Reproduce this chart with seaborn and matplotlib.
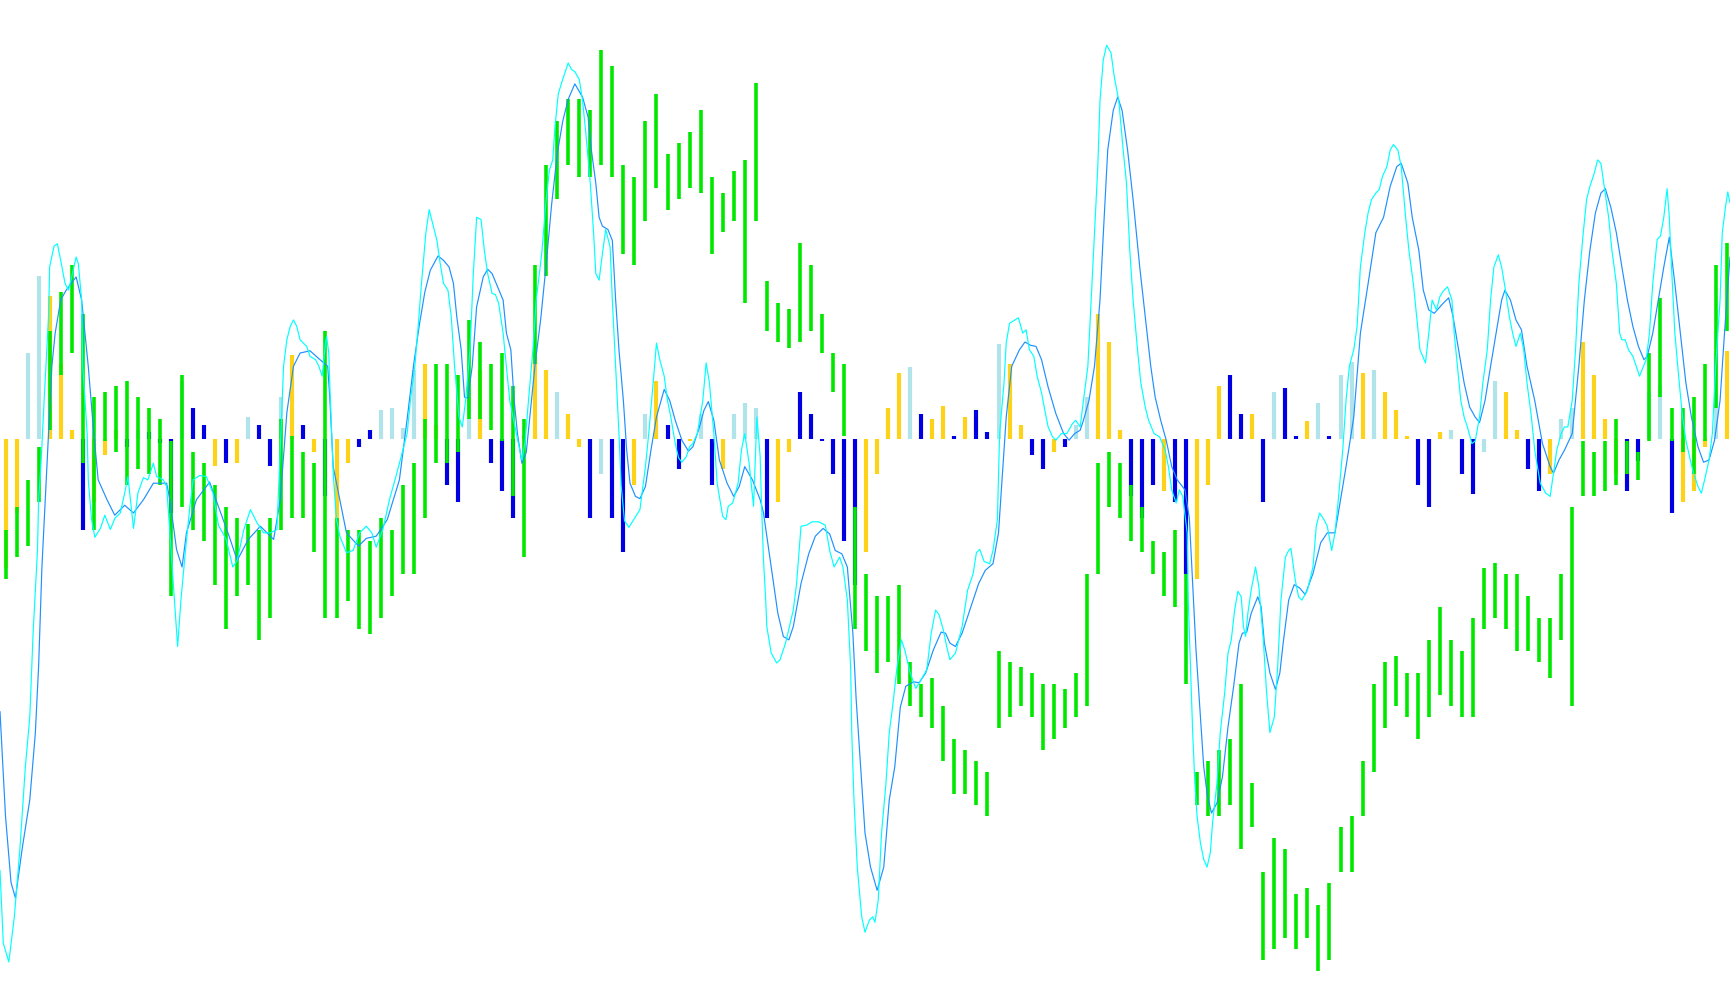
import numpy as np
import matplotlib
matplotlib.use("Agg")
import matplotlib.pyplot as plt
import seaborn as sns

# readings are screen rows of the 1568x911 view (0 = top), zero line of the
# oscillator sits at row 398; one bar sample every 10 columns
ZERO = 398

green_hi = [480, 460, 435, 405, 300, 265, 240, 285, 360, 355,
            350, 345, 360, 370, 380, 400, 340, 410, 420, 440,
            460, 470, 475, 480, 470, 380, 395, 410, 420, 300,
            470, 480, 480, 490, 470, 480, 440, 420, 380, 330,
            330, 340, 290, 310, 330, 320, 350, 380, 240, 150,
            110, 90, 90, 100, 45, 60, 150, 160, 110, 85,
            140, 130, 120, 100, 160, 175, 155, 145, 75, 255,
            275, 280, 220, 240, 285, 320, 330, 460, 520, 540,
            540, 530, 600, 620, 615, 640, 670, 680, 690, 700,
            590, 600, 605, 610, 620, 620, 625, 610, 520, 420,
            410, 420, 440, 460, 490, 500, 480, 520, 700, 690,
            680, 670, 620, 710, 790, 760, 770, 810, 805, 820,
            800, 750, 740, 690, 620, 600, 595, 610, 610, 580,
            550, 580, 590, 560, 515, 510, 520, 520, 540, 560,
            560, 520, 460, 400, 410, 400, 380, 400, 410, 320,
            270, 370, 370, 360, 330, 240, 220]

green_lo = [525, 505, 495, 455, 390, 340, 320, 420, 480, 400,
            410, 440, 425, 430, 440, 540, 460, 480, 490, 530,
            570, 540, 530, 580, 560, 480, 470, 470, 500, 560,
            560, 545, 570, 575, 560, 540, 520, 520, 470, 420,
            420, 410, 380, 380, 390, 400, 450, 505, 330, 250,
            180, 150, 160, 160, 150, 160, 230, 240, 200, 170,
            190, 180, 170, 175, 230, 210, 200, 275, 200, 300,
            310, 315, 310, 300, 320, 355, 395, 570, 590, 610,
            600, 620, 640, 650, 660, 690, 720, 720, 730, 740,
            660, 650, 640, 650, 680, 670, 660, 650, 640, 520,
            460, 470, 490, 500, 520, 540, 550, 620, 730, 740,
            740, 730, 770, 750, 870, 860, 850, 860, 850, 880,
            870, 790, 790, 740, 700, 660, 640, 650, 670, 650,
            630, 640, 650, 650, 570, 560, 570, 590, 590, 600,
            615, 580, 640, 450, 450, 445, 440, 430, 435, 400,
            360, 400, 410, 430, 400, 370, 300]

hist_end = [515, 465, 320, 250, 268, 330, 390, 480, 455, 412,
            390, 405, 390, 392, 402, 465, 345, 370, 385, 422,
            420, 420, 378, 385, 422, 360, 322, 385, 410, 450,
            478, 420, 405, 390, 372, 370, 388, 335, 330, 385,
            440, 455, 350, 335, 420, 445, 470, 395, 318, 335,
            355, 375, 405, 470, 430, 470, 500, 440, 375, 345,
            385, 425, 400, 375, 440, 425, 375, 365, 370, 470,
            455, 410, 355, 375, 400, 430, 490, 530, 500, 430,
            370, 338, 333, 375, 380, 368, 395, 378, 372, 392,
            312, 330, 385, 412, 425, 410, 405, 385, 360, 285,
            310, 390, 450, 470, 440, 445, 455, 520, 525, 440,
            350, 340, 375, 375, 455, 355, 352, 395, 382, 365,
            395, 340, 328, 338, 335, 355, 372, 395, 440, 460,
            392, 390, 430, 448, 410, 345, 355, 390, 425, 445,
            430, 380, 370, 310, 340, 380, 430, 445, 418, 355,
            350, 465, 455, 445, 405, 320, 318]

hist_kind = ("YYPPYYYBYY" "YBPBBBPBBY" "BYPBBPYBYB" "YYBBPPPPYY"
             "BBPYBBBYYY" "PYYBPBBYPY" "BBYPBYPPPB" "YYBBBBBBYY"
             "YYPBYYBYBB" "PYYBBYBPPY" "YYBBBYBBYY" "YBBYBPBBYP"
             "BPPYPYYYBB" "YPBBPPYYBB" "YPPYYYYBBP" "PBYYYPY")

blue_x = [0, 5, 10, 14, 20, 27, 32, 35, 38, 41, 44, 47, 50, 55, 60, 69, 74, 77, 80, 85,
          89, 97, 104, 113, 121, 130, 139, 151, 154, 160, 165, 169, 178, 190, 199, 208, 215,
          225, 236, 242, 248, 254, 260, 266, 272, 281, 290, 297, 299, 302, 308, 314, 325,
          332, 341, 351, 362, 369, 375, 380, 385, 390, 397, 402, 407, 411, 414, 418, 421,
          424, 428, 432, 438, 442, 446, 451, 456, 459, 463, 466, 469, 473, 477, 480, 485,
          490, 495, 500, 505, 510, 515, 521, 528, 533, 536, 540, 543, 546, 551, 555, 558,
          561, 565, 568, 571, 576, 580, 585, 590, 595, 602, 607, 612, 618, 624, 628, 634,
          638, 642, 647, 652, 659, 665, 670, 675, 682, 689, 692, 699, 705, 710, 715, 719,
          726, 733, 739, 746, 752, 757, 763, 768, 773, 776, 780, 784, 789, 795, 801, 806,
          811, 816, 821, 828, 833, 839, 846, 853, 857, 861, 866, 872, 877, 882, 887, 893,
          900, 905, 912, 917, 924, 929, 934, 939, 944, 950, 957, 964, 969, 974, 979, 982,
          987, 992, 997, 1000, 1004, 1009, 1013, 1017, 1022, 1027, 1033, 1038, 1043, 1047,
          1052, 1057, 1062, 1067, 1074, 1078, 1081, 1084, 1088, 1091, 1094, 1098, 1103,
          1108, 1113, 1118, 1123, 1126, 1130, 1134, 1140, 1143, 1146, 1151, 1156, 1160,
          1163, 1168, 1173, 1178, 1183, 1190, 1197, 1203, 1210, 1215, 1220, 1227, 1233,
          1240, 1247, 1254, 1260, 1266, 1270, 1276, 1280, 1286, 1290, 1295, 1300, 1307,
          1313, 1317, 1322, 1327, 1332, 1337, 1341, 1346, 1351, 1356, 1361, 1364, 1369,
          1374, 1379, 1384, 1391, 1398, 1405, 1408, 1413, 1418, 1425, 1431, 1436, 1441,
          1446, 1451, 1455, 1460, 1465, 1470, 1475, 1480, 1485, 1490, 1493, 1498, 1503,
          1508, 1513, 1518, 1523, 1528, 1533, 1539, 1544, 1549, 1554, 1559, 1563, 1568]
blue_y = [645, 740, 800, 814, 770, 725, 665, 604, 514, 453, 393, 332, 302, 272, 263, 251, 272, 302, 332, 393,
          435, 453, 467, 458, 465, 453, 438, 438, 453, 498, 514, 483, 453, 437, 462, 487, 508,
          489, 477, 483, 489, 453, 374, 332, 320, 318, 326, 332, 362, 423, 453, 483, 495,
          488, 486, 471, 435, 380, 330, 295, 265, 245, 232, 236, 242, 257, 287, 317, 360,
          361, 332, 278, 251, 244, 248, 260, 272, 302, 317, 363, 393, 420, 410, 380, 330,
          290, 240, 185, 140, 110, 90, 76, 88, 106, 136, 166, 197, 205, 208, 218, 272,
          317, 363, 408, 438, 450, 452, 441, 408, 378, 353, 363, 381, 399, 409, 405, 387,
          372, 364, 381, 417, 438, 450, 441, 423, 435, 453, 465, 514, 556, 577, 580, 568,
          529, 502, 486, 479, 484, 499, 502, 514, 574, 634, 695, 755, 786, 807, 786, 725,
          695, 641, 622, 618, 619, 610, 589, 573, 574, 583, 586, 574, 559, 544, 529, 517,
          511, 483, 378, 332, 317, 310, 313, 314, 326, 351, 375, 393, 399, 393, 390, 381,
          363, 332, 272, 212, 136, 100, 88, 100, 136, 181, 242, 287, 332, 360,
          381, 399, 423, 435, 444, 470, 530, 589, 650, 695, 719, 737, 728,
          704, 659, 623, 583, 574, 573, 556, 541, 550, 583, 610, 625, 610,
          583, 544, 530, 533, 539, 520, 492, 483, 483, 453, 423, 378, 302,
          257, 211, 197, 169, 151, 148, 166, 197, 227, 263, 281, 284, 276,
          270, 287, 317, 347, 369, 378, 383, 363, 332, 302, 272, 263, 272,
          290, 299, 332, 363, 402, 423, 429, 417, 408, 393, 332, 272, 227,
          193, 175, 171, 188, 211, 242, 272, 296, 314, 326, 323, 302, 272,
          242, 215, 257, 302, 347, 378, 405, 419, 417, 399, 363, 302, 233]

cyan_x = [0, 3, 8, 13, 18, 23, 27, 30, 34, 35, 37, 40, 44, 45, 49, 52, 55, 59, 62, 65,
          69, 71, 74, 75, 79, 80, 83, 86, 91, 95, 100, 104, 109, 113, 116, 121, 125, 130,
          134, 139, 142, 148, 151, 154, 157, 161, 164, 168, 172, 175, 181, 187, 193, 198,
          205, 211, 215, 221, 227, 233, 239, 245, 251, 254, 257, 260, 263, 266, 269, 272,
          278, 281, 286, 289, 292, 295, 296, 298, 299, 302, 305, 308, 314, 320, 326, 332,
          337, 341, 347, 353, 358, 362, 369, 372, 376, 379, 382, 386, 389, 392, 396, 399,
          402, 406, 409, 412, 416, 419, 422, 426, 429, 432, 436, 439, 442, 446, 449, 452,
          456, 459, 462, 468, 473, 476, 479, 483, 486, 491, 495, 498, 501, 503, 506, 510,
          515, 518, 521, 525, 528, 531, 535, 538, 540, 543, 546, 549, 553, 555, 558, 561,
          563, 566, 570, 575, 580, 585, 588, 592, 595, 598, 602, 605, 608, 612, 615, 618,
          622, 625, 628, 632, 637, 640, 643, 647, 650, 655, 658, 660, 664, 669, 672, 675,
          679, 683, 686, 689, 690, 692, 694, 695, 699, 704, 707, 712, 719, 722, 726, 731,
          736, 742, 748, 752, 756, 761, 764, 768, 771, 772, 774, 777, 781, 784, 788, 791,
          793, 796, 799, 803, 806, 809, 813, 817, 820, 825, 830, 835, 840, 844, 848, 851,
          855, 858, 861, 866, 872, 877, 882, 885, 888, 892, 897, 900, 904, 906, 910, 912,
          915, 920, 923, 927, 930, 933, 937, 940, 944, 947, 950, 954, 957, 962, 967, 972,
          975, 979, 982, 986, 989, 992, 995, 997, 1000, 1003, 1007, 1010, 1014, 1018, 1021,
          1024, 1027, 1031, 1034, 1038, 1041, 1046, 1051, 1056, 1059, 1062, 1066, 1069,
          1072, 1076, 1077, 1079, 1081, 1083, 1085, 1088, 1091, 1094, 1097, 1099, 1103,
          1106, 1110, 1113, 1116, 1119, 1122, 1125, 1127, 1129, 1131, 1134, 1138, 1141,
          1145, 1148, 1151, 1155, 1158, 1161, 1165, 1168, 1170, 1174, 1177, 1180, 1185,
          1190, 1193, 1196, 1200, 1203, 1207, 1210, 1213, 1217, 1220, 1223, 1227, 1230,
          1233, 1237, 1240, 1243, 1247, 1250, 1253, 1257, 1260, 1263, 1267, 1270, 1274,
          1277, 1281, 1284, 1287, 1292, 1295, 1298, 1302, 1305, 1308, 1312, 1316, 1318,
          1321, 1324, 1327, 1330, 1334, 1337, 1341, 1344, 1348, 1351, 1354, 1358, 1361,
          1364, 1368, 1371, 1374, 1378, 1381, 1384, 1388, 1391, 1396, 1401, 1405, 1408,
          1411, 1415, 1418, 1421, 1425, 1428, 1431, 1435, 1438, 1441, 1445, 1448, 1451,
          1454, 1458, 1461, 1465, 1468, 1470, 1473, 1476, 1480, 1483, 1486, 1492, 1495,
          1498, 1502, 1505, 1508, 1511, 1513, 1515, 1518, 1522, 1525, 1528, 1532, 1535,
          1539, 1542, 1545, 1549, 1552, 1555, 1559, 1561, 1564, 1566, 1568]
cyan_y = [789, 855, 872, 831, 770, 695, 650, 574, 498, 453, 423, 363, 287, 242, 223, 221, 236, 257, 263, 251,
          233, 239, 272, 332, 393, 435, 471, 487, 479, 467, 480, 470, 465, 447, 432, 479, 447, 433,
          435, 420, 432, 435, 441, 483, 528, 586, 544, 500, 460, 435, 431, 432, 447, 476,
          489, 514, 508, 480, 462, 474, 483, 483, 480, 408, 332, 308, 296, 290, 296, 308,
          314, 323, 326, 332, 341, 311, 305, 320, 351, 429, 471, 486, 501, 499, 483, 477,
          483, 496, 480, 453, 435, 420, 393, 363, 332, 296, 257, 211, 190, 202, 218, 239,
          257, 263, 287, 332, 378, 387, 363, 317, 248, 197, 199, 227, 248, 266, 267, 275,
          302, 332, 363, 393, 417, 400, 363, 317, 272, 230, 181, 154, 145, 115, 85, 72,
          57, 63, 65, 72, 91, 121, 166, 211, 248, 254, 230, 208, 224, 272, 332, 393,
          440, 472, 478, 470, 462, 423, 393, 347, 311, 326, 341, 363, 378, 402, 415, 419,
          414, 405, 402, 393, 363, 329, 347, 393, 438, 468, 471, 459, 456, 438, 408, 393,
          420, 459, 378, 414, 450, 508, 544, 568, 592, 601, 598, 583, 553, 529, 477, 476,
          473, 473, 476, 499, 514, 505, 514, 544, 605, 664, 725, 786, 831, 845, 834, 831,
          836, 816, 755, 710, 664, 641, 605, 580, 589, 610, 624, 616, 607, 574, 553, 557,
          571, 586, 598, 592, 568, 535, 520, 501, 498, 509, 511, 499, 471, 393, 347, 311,
          293, 290, 288, 302, 299, 317, 323, 341, 356, 372, 387, 396, 399, 393, 393, 384,
          381, 387, 363, 332, 272, 211, 151, 91, 54, 41, 48, 70, 91, 136, 166,
          227, 272, 317, 347, 369, 381, 393, 396, 408, 423, 444, 456, 444,
          450, 483, 544, 604, 664, 710, 740, 764, 779, 786, 773, 746, 710,
          664, 628, 592, 580, 553, 536, 541, 568, 577, 556, 535, 514, 532,
          580, 628, 664, 650, 605, 544, 505, 499, 497, 526, 541, 544, 535,
          514, 477, 465, 471, 477, 499, 483, 453, 408, 363, 332, 317, 296,
          242, 211, 193, 181, 175, 172, 160, 151, 136, 131, 136, 151, 197,
          227, 257, 287, 317, 329, 302, 272, 281, 269, 264, 260, 272, 302,
          332, 363, 378, 387, 402, 400, 378, 347, 317, 272, 242, 231, 242,
          260, 287, 302, 314, 302, 317, 347, 378, 408, 438, 447, 450, 429,
          408, 393, 387, 387, 363, 317, 257, 211, 181, 169, 157, 145, 148,
          169, 197, 227, 257, 302, 308, 308, 317, 323, 332, 341, 326, 302,
          257, 217, 214, 197, 171, 197, 242, 302, 347, 378, 399, 417, 429,
          441, 447, 435, 417, 393, 332, 272, 211, 187, 174, 184]

GREEN = "#00E800"
CYAN = "#00FFFF"
DODGER = "#1E90FF"
HIST_COLORS = {"Y": "#FFD21A", "B": "#0000E0", "P": "#B0E4EA"}

sns.set_style("white")
fig = plt.figure(figsize=(17.30, 10.05), dpi=100)
ax = fig.add_axes([0, 0, 1, 1])

bar_x = np.arange(len(green_hi)) * 10 + 5

# oscillator histogram around the zero row
ax.vlines(bar_x, ZERO, hist_end, colors=[HIST_COLORS[k] for k in hist_kind],
          linewidth=3.0, zorder=1)

# price bars (high-low)
ax.vlines(bar_x, green_hi, green_lo, colors=GREEN, linewidth=2.6, zorder=2)

sns.lineplot(x=blue_x, y=blue_y, ax=ax, color=DODGER, linewidth=0.85,
             estimator=None, sort=False, zorder=3)
sns.lineplot(x=cyan_x, y=cyan_y, ax=ax, color=CYAN, linewidth=0.85,
             estimator=None, sort=False, zorder=4)

ax.set_xlim(0, 1568)
ax.set_ylim(911, 0)
ax.axis("off")
fig.patch.set_facecolor("white")

plt.savefig("out.png", dpi=100, facecolor="white")
